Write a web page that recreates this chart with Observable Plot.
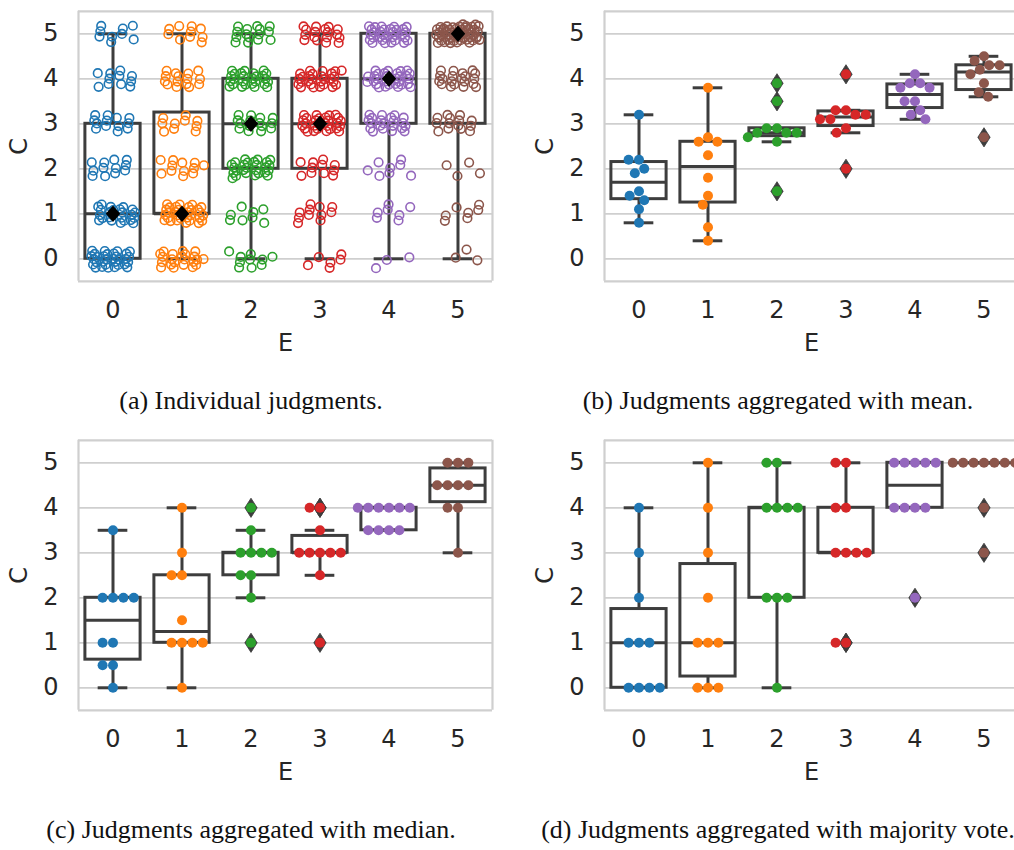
<!DOCTYPE html>
<html>
<head>
<meta charset="utf-8">
<script src="https://cdn.jsdelivr.net/npm/d3@7"></script>
<script src="https://cdn.jsdelivr.net/npm/@observablehq/plot@0.6"></script>
<style>
  html, body { margin: 0; padding: 0; background: #fff; overflow: hidden; }
  #page { position: relative; width: 1014px; height: 850px; overflow: hidden; background: #fff; }
  .panel { position: absolute; }
  .panel svg { overflow: visible; max-width: none !important; }
  .caption {
    position: absolute; white-space: nowrap; transform: translateX(-50%);
    font-family: "Liberation Serif", "Times New Roman", serif; font-size: 26px; line-height: 26px; color: #111;
  }
</style>
</head>
<body>
<div id="page"></div>
<script>
// Categories and ticks
const E_LEVELS = [0, 1, 2, 3, 4, 5];
const C_TICKS = [0, 1, 2, 3, 4, 5];
const PALETTE = ["#1f77b4", "#ff7f0e", "#2ca02c", "#d62728", "#9467bd", "#8c564b"];

// (a) individual judgments: how often each score C = 0..5 was given, one row per E level
const judgmentCounts = [
  [31, 24, 12, 13, 11, 9],
  [22, 31, 12, 10, 15, 10],
  [10, 8, 26, 15, 26, 15],
  [6, 11, 11, 28, 27, 17],
  [3, 7, 8, 21, 30, 31],
  [3, 7, 4, 14, 20, 52]
];

// (b) per-item scores aggregated with the mean, one row per E level
const meanScores = [
  [3.2, 2.2, 2.2, 2.0, 1.9, 1.5, 1.4, 1.3, 1.1, 0.8],
  [3.8, 2.7, 2.6, 2.6, 2.3, 1.8, 1.4, 1.2, 0.7, 0.4],
  [3.9, 3.5, 2.9, 2.9, 2.8, 2.8, 2.8, 2.7, 2.6, 1.5],
  [4.1, 3.3, 3.3, 3.2, 3.2, 3.1, 3.1, 2.9, 2.8, 2.0],
  [4.1, 3.9, 3.9, 3.8, 3.8, 3.5, 3.5, 3.3, 3.2, 3.1],
  [4.5, 4.4, 4.3, 4.3, 4.2, 4.1, 3.9, 3.7, 3.6, 2.7]
];

// (c) per-item scores aggregated with the median
const medianScores = [
  [3.5, 2, 2, 2, 2, 1, 1, 0.5, 0.5, 0],
  [4, 3, 2.5, 2.5, 1.5, 1, 1, 1, 1, 0],
  [4, 3.5, 3, 3, 3, 3, 2.5, 2.5, 2, 1],
  [4, 4, 3.5, 3, 3, 3, 3, 3, 2.5, 1],
  [4, 4, 4, 4, 4, 4, 3.5, 3.5, 3.5, 3.5],
  [5, 5, 5, 4.5, 4.5, 4.5, 4.5, 4, 4, 3]
];

// (d) per-item scores aggregated with a majority vote
const majorityScores = [
  [4, 3, 2, 1, 1, 1, 0, 0, 0, 0],
  [5, 4, 3, 2, 1, 1, 1, 0, 0, 0],
  [5, 5, 4, 4, 4, 4, 2, 2, 2, 0],
  [5, 5, 4, 4, 3, 3, 3, 3, 1, 1],
  [5, 5, 5, 5, 5, 4, 4, 4, 4, 2],
  [5, 5, 5, 5, 5, 5, 5, 5, 4, 3]
];

const CAPTIONS = [
  "(a) Individual judgments.",
  "(b) Judgments aggregated with mean.",
  "(c) Judgments aggregated with median.",
  "(d) Judgments aggregated with majority vote."
];

// Styling
const TEXT = "#262626";
const GRID = "#cfcfcf";
const BOX = "#3d3d3d";
const X_DOMAIN = [-0.5, 0.5];   // position inside one E band
const Y_DOMAIN = [-0.5, 5.5];
const BOX_HALF = 0.4;
const CAP_HALF = 0.215;
const FRAME_W = 416, FRAME_H = 270;

// Diamond glyphs; Plot passes size = π r²
const wideDiamond = {draw(ctx, size) {
  const r = Math.sqrt(size / Math.PI), w = 0.87 * r;
  ctx.moveTo(0, -r); ctx.lineTo(w, 0); ctx.lineTo(0, r); ctx.lineTo(-w, 0); ctx.closePath();
}};
const thinDiamond = {draw(ctx, size) {
  const r = Math.sqrt(size / Math.PI), w = 0.64 * r;
  ctx.moveTo(0, -r); ctx.lineTo(w, 0); ctx.lineTo(0, r); ctx.lineTo(-w, 0); ctx.closePath();
}};

// Tukey box statistics (linear quantiles, 1.5 IQR whiskers)
function boxStats(E, values) {
  const s = values.slice().sort(d3.ascending);
  const q1 = d3.quantile(s, 0.25), med = d3.quantile(s, 0.5), q3 = d3.quantile(s, 0.75);
  const iqr = q3 - q1;
  const lo = d3.min(s.filter(v => v >= q1 - 1.5 * iqr));
  const hi = d3.max(s.filter(v => v <= q3 + 1.5 * iqr));
  return {E, q1, med, q3, lo, hi, outliers: s.filter(v => v < lo || v > hi)};
}

function boxMarks(boxes) {
  const line = {fx: "E", stroke: BOX, strokeWidth: 3};
  return [
    Plot.ruleX(boxes, {...line, x: () => 0, y1: "q3", y2: "hi"}),
    Plot.ruleX(boxes, {...line, x: () => 0, y1: "q1", y2: "lo"}),
    Plot.ruleY(boxes, {...line, y: "hi", x1: () => -CAP_HALF, x2: () => CAP_HALF}),
    Plot.ruleY(boxes, {...line, y: "lo", x1: () => -CAP_HALF, x2: () => CAP_HALF}),
    Plot.rect(boxes, {...line, fill: "none", x1: () => -BOX_HALF, x2: () => BOX_HALF, y1: "q1", y2: "q3"}),
    Plot.ruleY(boxes, {...line, y: "med", x1: () => -BOX_HALF, x2: () => BOX_HALF})
  ];
}

function panel(marginLeft, marks) {
  const frameSides = [{E: E_LEVELS[0], edge: X_DOMAIN[0]}, {E: E_LEVELS[E_LEVELS.length - 1], edge: X_DOMAIN[1]}];
  return Plot.plot({
    width: marginLeft + FRAME_W + 14,
    height: 10.8 + FRAME_H + 80.2,
    marginLeft, marginRight: 14, marginTop: 10.8, marginBottom: 80.2,
    style: {fontFamily: "DejaVu Sans", fontSize: "24px", color: TEXT, background: "transparent", overflow: "visible"},
    fx: {domain: E_LEVELS, padding: 0, tickSize: 0, tickPadding: 20, label: null},
    x: {domain: X_DOMAIN, axis: null},
    y: {domain: Y_DOMAIN, ticks: C_TICKS, tickFormat: d => String(d), tickSize: 0, tickPadding: 20, label: null},
    color: {type: "ordinal", domain: E_LEVELS, range: PALETTE},
    marks: [
      Plot.gridY(C_TICKS, {stroke: GRID, strokeOpacity: 1, strokeWidth: 1.8}),
      Plot.ruleY(Y_DOMAIN, {stroke: GRID, strokeWidth: 2.2}),
      Plot.ruleX(frameSides, {fx: "E", x: "edge", stroke: GRID, strokeWidth: 2.2}),
      ...marks,
      // axis titles: C along the left edge, E centred under the frame
      Plot.text([{E: E_LEVELS[0]}], {fx: "E", frameAnchor: "left", textAnchor: "middle", lineAnchor: "middle",
        dx: -59, rotate: -90, text: () => "C", fill: TEXT}),
      Plot.text([{E: E_LEVELS[2]}], {fx: "E", frameAnchor: "bottom-right", textAnchor: "middle", lineAnchor: "middle",
        dy: 62, text: () => "E", fill: TEXT})
    ]
  });
}

// (a) strip plot of every judgment, spread with a low-discrepancy jitter
const frac = v => v - Math.floor(v);
const judgments = [];
let k = 0;
E_LEVELS.forEach((e, i) => judgmentCounts[i].forEach((n, c) => {
  for (let j = 0; j < n; ++j, ++k) {
    judgments.push({E: e, C: c, jx: frac(0.5 + k * 0.7548776662) - 0.5, jy: frac(0.5 + k * 0.5698402910) - 0.5});
  }
}));
const boxesA = E_LEVELS.map(e => boxStats(e, judgments.filter(d => d.E === e).map(d => d.C)));

function panelA(marginLeft) {
  return panel(marginLeft, [
    ...boxMarks(boxesA),
    Plot.dot(judgments, {fx: "E", x: d => d.jx * 0.64, y: d => d.C + d.jy * 0.42, r: 4.3, stroke: "E", fill: "none", strokeWidth: 1.6}),
    Plot.dot(boxesA, {fx: "E", x: () => 0, y: "med", r: 8.3, symbol: wideDiamond, fill: "#000", stroke: "none"})
  ]);
}

// (b)-(d) box plots with swarm points of the aggregated scores
function panelAgg(marginLeft, table) {
  const items = E_LEVELS.flatMap((e, i) => table[i].map(v => ({E: e, v})));
  const boxes = E_LEVELS.map((e, i) => boxStats(e, table[i]));
  const outliers = boxes.flatMap(b => b.outliers.map(v => ({E: b.E, v})));
  return panel(marginLeft, [
    ...boxMarks(boxes),
    Plot.dot(outliers, {fx: "E", x: () => 0, y: "v", r: 9.6, symbol: thinDiamond, fill: BOX, stroke: BOX, strokeWidth: 0.8}),
    Plot.dot(items, Plot.dodgeX({anchor: "middle", padding: 0.4}, {fx: "E", y: "v", r: 5, fill: "E", stroke: "none"}))
  ]);
}

const page = document.getElementById("page");
function place(node, left, top) {
  const div = document.createElement("div");
  div.className = "panel";
  div.style.left = left + "px";
  div.style.top = top + "px";
  div.style.width = node.getAttribute("width") + "px";
  div.appendChild(node);
  page.appendChild(div);
}
function caption(text, centerX, top) {
  const div = document.createElement("div");
  div.className = "caption";
  div.style.left = centerX + "px";
  div.style.top = top + "px";
  div.textContent = text;
  page.appendChild(div);
}

place(panelA(76.7), 0, 0);
place(panelAgg(82.7, meanScores), 520, 0);
place(panelAgg(76.7, medianScores), 0, 429.4);
place(panelAgg(82.7, majorityScores), 520, 429.4);

caption(CAPTIONS[0], 251, 388);
caption(CAPTIONS[1], 778, 388);
caption(CAPTIONS[2], 251, 817.4);
caption(CAPTIONS[3], 778, 817.4);
</script>
</body>
</html>
